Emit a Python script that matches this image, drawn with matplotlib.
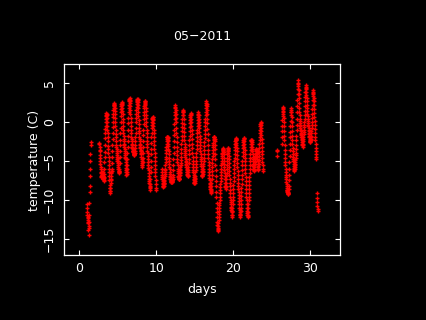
import numpy as np
import matplotlib
matplotlib.use("Agg")
import matplotlib.pyplot as plt

nan = np.nan

# half-hourly temperatures (C), May 2011, one list per day (00:00 .. 23:30)
d01 = [-11.0, -10.6, -11.6, -11.9, -12.2, -12.6, -12.8, -12.3, -13.0, -13.9, -13.6, -12.9,
       -14.5, -13.4, -12.0, -10.4, -9.0, -8.2, -7.0, -6.1, -5.0, -4.1, -3.0, -2.6] + [nan] * 24
d02 = [nan] * 28 + [-2.7, -2.9, -3.2, -3.6, -3.8, -4.3, -4.6, -5.1, -5.4, -5.8,
                    -6.0, -6.4, -6.6, -6.9, -7.1, -7.0, -6.9, -6.6, -6.8, -6.5]
d03 = [-6.8, -6.5, -7.0, -7.4, -7.2, -6.9, -7.3, -7.6, -7.5, -7.1, -7.2, -6.7,
       -6.0, -5.2, -4.5, -3.9, -3.0, -2.1, -1.5, -0.9, -0.5, 0.0, 0.3, 0.7,
       0.9, 1.1, 1.0, 0.8, 0.5, 0.0, -0.5, -1.1, -1.5, -2.0, -2.5, -3.1,
       -3.5, -4.0, -4.5, -5.1, -5.5, -6.1, -6.5, -7.0, -7.5, -8.1, -8.5, -8.9]
d04 = [-9.2, -8.9, -8.5, -7.9, -7.5, -7.3, -7.0, -6.6, -6.5, -6.3, -6.0, -5.3,
       -4.5, -3.8, -3.0, -2.2, -1.5, -0.7, 0.0, 0.6, 1.0, 1.5, 1.8, 2.2,
       2.4, 2.3, 2.2, 2.0, 1.8, 1.4, 1.0, 0.5, 0.0, -0.5, -1.0, -1.6,
       -2.0, -2.5, -3.0, -3.3, -3.5, -3.7, -4.0, -4.3, -4.5, -4.8, -5.0, -4.7]
d05 = [-5.0, -5.3, -5.5, -5.8, -6.0, -6.3, -6.5, -6.4, -6.6, -6.3, -6.0, -5.3,
       -4.5, -3.7, -3.0, -2.3, -1.5, -0.8, 0.0, 0.7, 1.2, 1.6, 2.0, 2.3,
       2.4, 2.5, 2.3, 2.1, 1.8, 1.4, 1.0, 0.4, 0.0, -0.6, -1.0, -1.4,
       -1.8, -2.2, -2.5, -2.8, -3.0, -3.2, -3.5, -3.8, -4.0, -4.3, -4.5, -4.7]
d06 = [-4.8, -5.2, -5.5, -5.9, -6.2, -6.5, -6.8, -6.7, -6.5, -6.1, -5.5, -4.8,
       -4.0, -3.2, -2.5, -1.8, -1.0, -0.2, 0.5, 1.2, 1.8, 2.2, 2.6, 2.8,
       2.9, 3.0, 2.8, 2.7, 2.4, 2.0, 1.5, 1.0, 0.5, 0.0, -0.5, -1.0,
       -1.5, -1.9, -2.2, -2.5, -2.8, -3.0, -3.2, -3.4, -3.5, -3.7, -3.8, -3.8]
d07 = [-3.8, -3.9, -4.0, -4.1, -4.2, -4.3, -4.3, -4.2, -4.2, -4.0, -3.8, -3.4,
       -3.0, -2.5, -2.0, -1.4, -0.8, -0.1, 0.5, 1.0, 1.5, 1.9, 2.3, 2.5,
       2.7, 2.8, 2.9, 2.9, 2.8, 2.5, 2.2, 1.7, 1.2, 0.7, 0.2, -0.3,
       -0.8, -1.2, -1.5, -1.9, -2.2, -2.5, -2.8, -3.0, -3.2, -3.4, -3.6, -3.7]
d08 = [-3.8, -4.0, -4.2, -4.5, -4.8, -5.0, -5.3, -5.6, -5.8, -5.5, -5.2, -4.6,
       -4.0, -3.2, -2.5, -1.7, -1.0, -0.3, 0.3, 0.8, 1.3, 1.7, 2.0, 2.3,
       2.5, 2.6, 2.6, 2.4, 2.2, 1.8, 1.4, 0.9, 0.5, 0.0, -0.5, -1.0,
       -1.5, -2.0, -2.5, -2.9, -3.3, -3.7, -4.0, -4.4, -4.8, -5.2, -5.5, -5.9]
d09 = [-6.2, -6.6, -7.0, -7.3, -7.6, -7.9, -8.2, -8.5, -8.8, -8.4, -8.0, -7.3,
       -6.5, -5.8, -5.0, -4.2, -3.5, -2.7, -2.0, -1.4, -0.8, -0.4, 0.0, 0.3,
       0.5, 0.6, 0.6, 0.4, 0.2, -0.2, -0.6, -1.0, -1.5, -2.0, -2.5, -3.0,
       -3.5, -4.0, -4.5, -5.0, -5.5, -6.0, -6.5, -7.0, -7.5, -8.0, -8.5, -8.7]
d10 = [nan] * 34 + [-6.0, -6.4, -6.8, -7.1, -7.4, -7.6, -7.8, -8.0, -8.2, -8.3,
                    -8.4, -8.2, -8.0, -7.9]
d11 = [-7.8, -7.6, -7.5, -7.2, -7.0, -6.7, -6.5, -6.2, -6.0, -5.6, -5.2, -4.8,
       -4.5, -4.0, -3.6, -3.2, -2.8, -2.5, -2.2, -2.0, -1.9, -1.9, -2.0, -2.1,
       -2.3, -2.5, -2.8, -3.1, -3.5, -3.8, -4.2, -4.6, -5.0, -5.4, -5.8, -6.1,
       -6.4, -6.7, -7.0, -7.1, -7.3, -7.4, -7.5, -7.6, -7.7, -7.7, -7.6, -7.5]
d12 = [-7.5, -7.5, -7.6, -7.7, -7.7, -7.6, -7.4, -7.1, -6.8, -6.2, -5.5, -4.8,
       -4.0, -3.2, -2.5, -1.7, -1.0, -0.3, 0.3, 0.8, 1.2, 1.7, 2.1, 1.9,
       1.5, 1.0, 0.5, -0.1, -0.8, -1.4, -2.0, -2.6, -3.2, -3.8, -4.3, -4.8,
       -5.2, -5.6, -6.0, -6.3, -6.6, -6.9, -7.1, -7.3, -7.4, -7.4, -7.3, -7.2]
d13 = [-7.0, -6.8, -6.6, -6.4, -6.2, -6.0, -5.8, -5.5, -5.3, -4.9, -4.5, -4.0,
       -3.5, -2.9, -2.3, -1.8, -1.2, -0.7, -0.2, 0.3, 0.8, 1.2, 1.5, 1.4,
       1.2, 0.8, 0.3, -0.3, -0.8, -1.3, -1.8, -2.3, -2.8, -3.2, -3.5, -3.8,
       -4.0, -4.3, -4.5, -4.8, -5.0, -5.2, -5.4, -5.6, -5.8, -6.0, -6.2, -6.4]
d14 = [-6.5, -6.7, -6.8, -6.9, -7.0, -6.8, -6.5, -6.2, -5.8, -5.3, -4.8, -4.2,
       -3.6, -3.0, -2.4, -1.8, -1.2, -0.7, -0.2, 0.2, 0.6, 0.9, 1.1, 1.0,
       0.8, 0.4, 0.0, -0.5, -1.0, -1.6, -2.2, -2.8, -3.4, -4.0, -4.5, -5.0,
       -5.4, -5.8, -6.2, -6.5, -6.8, -7.1, -7.3, -7.5, -7.7, -7.8, -7.9, -7.8]
d15 = [-7.6, -7.4, -7.2, -6.9, -6.5, -6.2, -5.8, -5.4, -5.0, -4.5, -4.0, -3.5,
       -3.0, -2.5, -2.0, -1.5, -1.0, -0.6, -0.2, 0.2, 0.6, 0.9, 1.2, 1.0,
       0.8, 0.4, 0.0, -0.4, -0.8, -1.3, -1.8, -2.2, -2.6, -3.0, -3.4, -3.8,
       -4.1, -4.5, -4.8, -5.1, -5.4, -5.7, -6.0, -6.3, -6.5, -6.8, -7.0, -6.9]
d16 = [-6.8, -6.7, -6.5, -6.3, -6.0, -5.7, -5.4, -5.0, -4.6, -4.1, -3.6, -3.1,
       -2.6, -2.1, -1.6, -1.1, -0.6, -0.1, 0.4, 0.9, 1.3, 1.7, 2.1, 2.4,
       2.6, 2.3, 2.0, 1.5, 1.0, 0.4, -0.2, -0.9, -1.6, -2.3, -3.0, -3.6,
       -4.2, -4.7, -5.2, -5.6, -6.0, -6.4, -6.8, -7.2, -7.5, -7.8, -8.0, -8.2]
d17 = [-8.4, -8.6, -8.8, -9.0, -9.2, -8.9, -8.6, -8.2, -7.8, -7.3, -6.8, -6.3,
       -5.8, -5.3, -4.8, -4.4, -4.0, -3.6, -3.3, -3.0, -2.7, -2.4, -2.2, -2.0,
       -1.9, -1.9, -2.0, -2.2, -2.5, -3.0, -3.5, -4.1, -4.8, -5.5, -6.2, -6.9,
       -7.6, -8.3, -9.0, -9.7, -10.4, -11.0, -11.6, -12.2, -12.8, -13.2, -13.6, -13.9]
d18 = [-14.0, -13.7, -13.4, -13.0, -12.6, -12.2, -11.8, -11.4, -11.0, -10.7, -10.4, -10.0,
       -9.6, -9.2, -8.8, -8.4, -8.0, -7.6, -7.2, -6.8, -6.4, -6.0, -5.6, -5.3,
       -5.0, -4.7, -4.4, -4.2, -4.0, -3.8, -3.6, -3.5, -3.4, -3.5, -3.6, -3.9,
       -4.2, -4.6, -5.0, -5.4, -5.8, -6.2, -6.6, -7.0, -7.4, -7.8, -8.2, -8.4]
d19 = [-8.6, -8.4, -8.2, -7.8, -7.4, -7.0, -6.6, -6.1, -5.6, -5.1, -4.6, -4.2,
       -3.8, -3.6, -3.4, -3.4, -3.5, -3.7, -4.0, -4.4, -4.8, -5.3, -5.8, -6.3,
       -6.8, -7.3, -7.8, -8.3, -8.8, -9.2, -9.6, -10.0, -10.3, -10.6, -10.9, -11.1,
       -11.3, -11.5, -11.6, -11.9, -12.2, -11.9, -11.5, -11.0, -10.6, -10.1, -9.6, -9.1]
d20 = [-8.6, -8.1, -7.6, -7.1, -6.6, -6.1, -5.6, -5.1, -4.6, -4.1, -3.6, -3.2,
       -2.8, -2.5, -2.3, -2.2, -2.1, -2.2, -2.4, -2.7, -3.0, -3.4, -3.8, -4.3,
       -4.8, -5.3, -5.8, -6.3, -6.8, -7.3, -7.8, -8.2, -8.6, -9.0, -9.4, -9.8,
       -10.2, -10.6, -11.0, -11.3, -11.6, -11.9, -12.2, -12.0, -11.8, -11.4, -11.0, -10.5]
d21 = [-10.0, -9.5, -9.0, -8.5, -8.0, -7.4, -6.8, -6.2, -5.6, -5.0, -4.4, -3.9,
       -3.4, -3.0, -2.6, -2.3, -2.1, -2.1, -2.2, -2.5, -2.8, -3.2, -3.6, -4.1,
       -4.6, -5.1, -5.6, -6.1, -6.6, -7.1, -7.6, -8.1, -8.6, -9.1, -9.6, -10.1,
       -10.6, -11.0, -11.4, -11.7, -12.0, -12.1, -12.2, -11.9, -11.6, -11.1, -10.6, -10.1]
d22 = [-9.6, -9.1, -8.6, -8.1, -7.6, -7.1, -6.6, -6.1, -5.6, -5.1, -4.6, -4.1,
       -3.6, -3.2, -2.8, -2.5, -2.3, -2.3, -2.4, -2.6, -2.9, -3.2, -3.5, -3.8,
       -4.2, -4.5, -4.8, -5.1, -5.4, -5.7, -6.0, -6.2, -6.3, -6.2, -6.0, -5.8,
       -5.6, -5.4, -5.2, -5.0, -4.8, -4.6, -4.4, -4.2, -4.0, -3.8, -3.6, -3.5]
d23 = [-3.5, -3.6, -3.8, -4.0, -4.2, -4.5, -4.8, -5.1, -5.4, -5.7, -6.0, -6.1,
       -6.2, -5.8, -5.4, -4.9, -4.4, -3.9, -3.4, -2.9, -2.4, -1.9, -1.4, -1.0,
       -0.6, -0.3, 0.0, -0.2, -0.4, -0.8, -1.2, -1.7, -2.2, -2.7, -3.2, -3.7,
       -4.2, -4.7, -5.2, -5.6, -6.0, -6.3] + [nan] * 6
d24 = [nan] * 48
d25 = [nan] * 30 + [-3.6, -3.8, nan, nan, -4.4] + [nan] * 13
d26 = [nan] * 14 + [-2.9, -2.0, -1.2, -0.5, 0.2, 0.7, 1.2, 1.6, 1.9, 1.7,
                    1.4, 1.0, 0.5, 0.0, -0.6, -1.2, -1.8, -2.4, -3.0, -3.6,
                    -4.2, -4.7, -5.2, -5.6, -6.0, -6.4, -6.8, -7.1, -7.4, -7.7,
                    -8.0, -8.3, -8.5, -8.7]
d27 = [-8.8, -8.9, -9.0, -9.1, -9.2, -9.3, -9.3, -9.2, -9.0, -8.6, -8.2, -7.5,
       -6.8, -6.0, -5.2, -4.4, -3.6, -2.8, -2.0, -1.3, -0.6, 0.1, 0.8, 1.3,
       1.8, 1.5, 1.2, 0.6, 0.0, -0.6, -1.2, -1.8, -2.4, -2.9, -3.4, -3.8,
       -4.2, -4.5, -4.8, -5.1, -5.4, -5.7, -5.9, -6.1, -6.3, -6.2, -6.0, -5.8]
d28 = [-5.6, -5.4, -5.2, -4.9, -4.6, -4.3, -4.0, -3.5, -3.0, -2.4, -1.8, -1.1,
       -0.4, 0.4, 1.2, 2.0, 2.8, 3.5, 4.2, 4.8, 5.3, 5.0, 4.6, 4.1,
       3.6, 3.0, 2.4, 1.8, 1.2, 0.8, 0.4, 0.1, -0.2, -0.4, -0.6, -0.8,
       -1.0, -1.2, -1.4, -1.6, -1.7, -1.9, -2.0, -2.2, -2.4, -2.6, -2.8, -3.0]
d29 = [-3.2, -3.0, -2.8, -2.5, -2.2, -1.9, -1.6, -1.3, -1.0, -0.7, -0.4, 0.0,
       0.4, 0.9, 1.4, 2.0, 2.6, 3.2, 3.8, 4.3, 4.7, 4.5, 4.2, 3.8,
       3.4, 3.0, 2.6, 2.2, 1.8, 1.4, 1.0, 0.7, 0.4, 0.1, -0.2, -0.4,
       -0.6, -0.8, -1.0, -1.2, -1.4, -1.6, -1.8, -2.0, -2.2, -2.4, -2.5, -2.6]
d30 = [-2.6, -2.5, -2.4, -2.2, -2.0, -1.8, -1.5, -1.2, -0.8, -0.4, 0.0, 0.5,
       1.0, 1.6, 2.2, 2.8, 3.3, 3.7, 4.1, 3.8, 3.5, 3.0, 2.6, 2.1,
       1.6, 1.1, 0.6, 0.1, -0.4, -0.9, -1.4, -1.9, -2.4, -2.9, -3.4, -3.8,
       -4.2, -4.5, -4.8, nan, nan, nan, -9.2, -9.8, -10.3, -10.8, -11.2, -11.4]

days_data = [d01, d02, d03, d04, d05, d06, d07, d08, d09, d10,
             d11, d12, d13, d14, d15, d16, d17, d18, d19, d20,
             d21, d22, d23, d24, d25, d26, d27, d28, d29, d30]

x = []
y = []
for i, vals in enumerate(days_data):
    for k, v in enumerate(vals):
        x.append(i + 1 + k / 48.0)
        y.append(v)
x = np.array(x)
y = np.array(y)

W, H = 426, 320
fig = plt.figure(figsize=(W / 100, H / 100), dpi=100, facecolor='black')
ax = fig.add_axes([64.3 / W, 1 - 255 / H, (340.3 - 64.3) / W, (255 - 64.3) / H])
ax.set_facecolor('black')

ax.plot(x, y, linestyle='none', marker='+', color='red', markersize=2.6,
        markeredgewidth=1.0, antialiased=False)

ax.set_xlim(-1.95, 33.9)
ax.set_ylim(-17.09, 7.36)
ax.set_xticks([0, 10, 20, 30])
ax.set_yticks([-15, -10, -5, 0, 5])

for s in ax.spines.values():
    s.set_color('white')
    s.set_linewidth(0.9)

ax.tick_params(which='both', direction='in', length=3.6, width=0.8, color='white',
               labelcolor='white', labelsize=9, top=True, right=True)
ax.tick_params(axis='x', pad=5)
ax.tick_params(axis='y', pad=6, labelrotation=90)
for lab in ax.get_yticklabels():
    lab.set_verticalalignment('center')

fig.text(202 / W, 1 - 37 / H, '05\u22122011', color='white', fontsize=9, ha='center', va='center')
fig.text(202 / W, 1 - 290 / H, 'days', color='white', fontsize=9, ha='center', va='center')
fig.text(34.3 / W, 1 - 160 / H, 'temperature (C)', color='white', fontsize=9,
         ha='center', va='center', rotation=90)

fig.savefig('out.png', dpi=100, facecolor='black')
